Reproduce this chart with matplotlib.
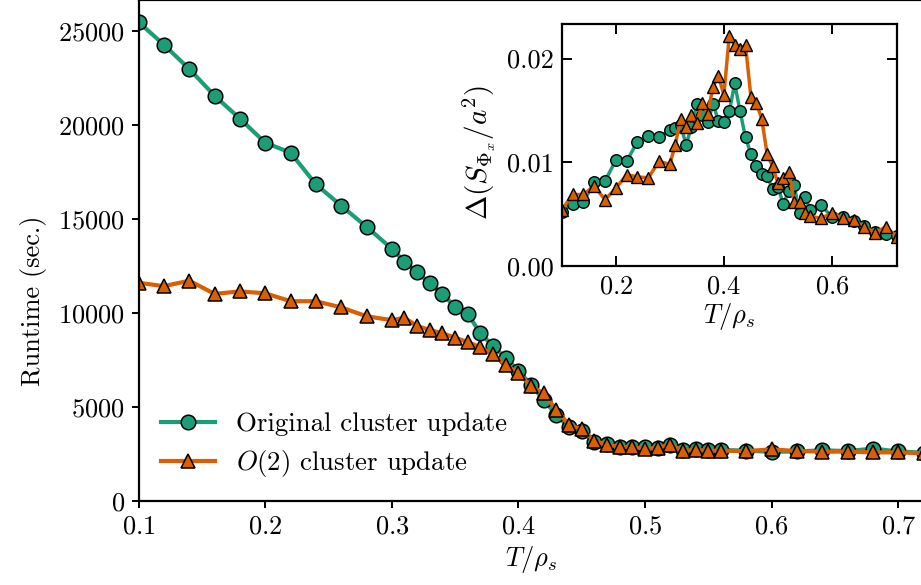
import matplotlib
matplotlib.use("Agg")
from matplotlib import pyplot as plt

plt.rcParams["font.family"] = "serif"
plt.rcParams["font.serif"] = ["cmr10"]
plt.rcParams["mathtext.fontset"] = "cm"
plt.rcParams["axes.formatter.use_mathtext"] = True
plt.rcParams["font.size"] = 19

T = [0.10, 0.12, 0.14, 0.16, 0.18, 0.20, 0.22, 0.24, 0.26, 0.28, 0.30,
     0.31, 0.32, 0.33, 0.34, 0.35, 0.36, 0.37, 0.38, 0.39, 0.40,
     0.41, 0.42, 0.43, 0.44, 0.45, 0.46, 0.47, 0.48, 0.49, 0.50,
     0.51, 0.52, 0.53, 0.54, 0.55, 0.56,
     0.58, 0.60, 0.62, 0.64, 0.66, 0.68, 0.70, 0.72]

runtime_orig = [25450, 24250, 22960, 21540, 20320, 19040, 18510, 16830, 15690, 14570, 13400,
                12720, 12140, 11570, 10980, 10320, 9930, 8900, 8230, 7570, 6920,
                6150, 5360, 4560, 3900, 3720, 3100, 3030, 2870, 2860, 2830,
                2790, 2950, 2680, 2750, 2720, 2700,
                2660, 2600, 2620, 2680, 2640, 2770, 2620, 2550]

runtime_o2 = [11590, 11410, 11700, 11000, 11130, 11030, 10610, 10610, 10280, 9810, 9600,
              9730, 9290, 9080, 8900, 8670, 8430, 8160, 7780, 7220, 6780,
              6100, 5710, 4820, 4030, 3800, 3180, 2980, 2860, 2870, 2750,
              2820, 2980, 2660, 2700, 2660, 2660,
              2640, 2730, 2640, 2610, 2610, 2570, 2570, 2520]

err_orig = [0.0052, 0.0060, 0.0062, 0.0081, 0.0082, 0.0102, 0.0101, 0.0120, 0.0125, 0.0124, 0.0131,
            0.0133, 0.0136, 0.0117, 0.0134, 0.0156, 0.0146, 0.0139, 0.0156, 0.0140, 0.0139,
            0.0149, 0.0176, 0.0149, 0.0124, 0.0108, 0.0096, 0.0089, 0.0087, 0.0074, 0.0076,
            0.0060, 0.0072, 0.0078, 0.0051, 0.0067, 0.0054,
            0.0059, 0.0047, 0.0047, 0.0043, 0.0039, 0.0033, 0.0031, 0.0029]

err_o2 = [0.0054, 0.0069, 0.0069, 0.0077, 0.0064, 0.0075, 0.0088, 0.0086, 0.0085, 0.0101, 0.0098,
          0.0117, 0.0142, 0.0134, 0.0146, 0.0138, 0.0157, 0.0147, 0.0173, 0.0183, 0.0165,
          0.0222, 0.0213, 0.0209, 0.0213, 0.0163, 0.0157, 0.0142, 0.0108, 0.0096, 0.0080,
          0.0085, 0.0091, 0.0062, 0.0062, 0.0051, 0.0048,
          0.0046, 0.0051, 0.0046, 0.0044, 0.0038, 0.0032, 0.0038, 0.0028]

green = "#1b9e77"
orange = "#d95f02"

fig = plt.figure(figsize=(9.21, 5.85), dpi=100)
ax = fig.add_axes([0.1505, 0.1441, 0.8523, 0.8559])
ax.plot(T, runtime_orig, color=green, lw=3.0, marker="o", ms=10.5,
        mec="black", mew=1.1, label="Original cluster update")
ax.plot(T, runtime_o2, color=orange, lw=3.0, marker="^", ms=10.5,
        mec="black", mew=1.1, label="$O(2)$ cluster update")
ax.set_xlim(0.1, 0.72)
ax.set_ylim(0, 26630)
ax.set_xticks([0.1, 0.2, 0.3, 0.4, 0.5, 0.6, 0.7])
ax.set_yticks([0, 5000, 10000, 15000, 20000, 25000])
ax.set_xlabel(r"$T/\rho_s$", labelpad=4)
ax.set_ylabel("Runtime (sec.)", labelpad=8)
ax.yaxis.label.set_y(0.40)
for s in ax.spines.values():
    s.set_linewidth(1.6)
ax.tick_params(direction="out", length=5, width=1.4, pad=5)
ax.legend(loc="center left", bbox_to_anchor=(0.029, 0.11), frameon=False,
          handlelength=2.0, handletextpad=0.8, labelspacing=0.45,
          borderpad=0, borderaxespad=0, fontsize=19.3)

ins = fig.add_axes([0.610, 0.5453, 0.3637, 0.413])
ins.plot(T, err_orig, color=green, lw=2.5, marker="o", ms=8.3,
         mec="black", mew=1.0)
ins.plot(T, err_o2, color=orange, lw=2.5, marker="^", ms=8.6,
         mec="black", mew=1.0)
ins.set_xlim(0.1, 0.72)
ins.set_ylim(0, 0.0233)
ins.set_xticks([0.2, 0.4, 0.6])
ins.set_yticks([0.0, 0.01, 0.02])
ins.set_yticklabels(["0.00", "0.01", "0.02"])
ins.set_xlabel(r"$T/\rho_s$", labelpad=2)
ins.set_ylabel(r"$\Delta(S_{\Phi_x}/a^2)$", labelpad=6, fontsize=21)
ins.yaxis.label.set_y(0.47)
for s in ins.spines.values():
    s.set_linewidth(1.6)
ins.tick_params(direction="in", length=7, width=1.4, top=True, right=True, pad=6)

fig.savefig("out.png", dpi=100)
